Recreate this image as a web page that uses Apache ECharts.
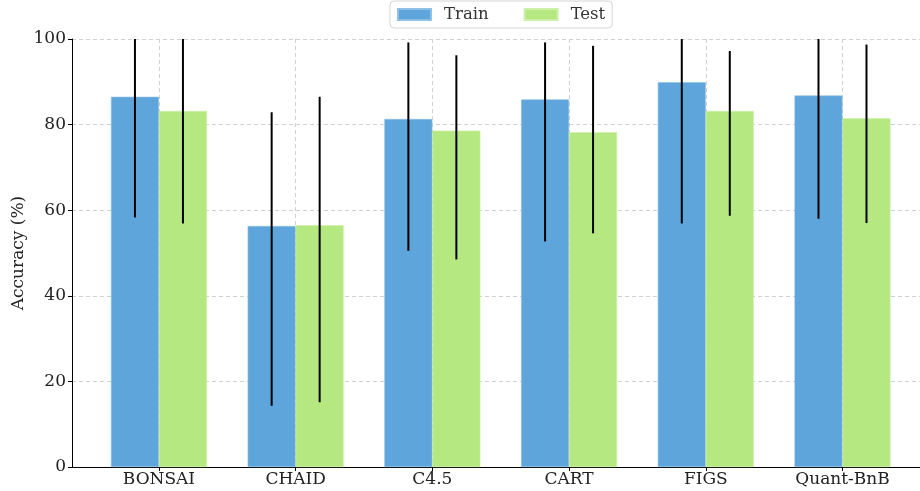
<!DOCTYPE html>
<html>
<head>
<meta charset="utf-8">
<script src="https://cdn.jsdelivr.net/npm/echarts@6/dist/echarts.min.js"></script>
<style>html,body{margin:0;padding:0;background:#fff;}#c{width:920px;height:491px;}</style>
</head>
<body>
<div id="c"></div>
<script>
const categories = ['BONSAI', 'CHAID', 'C4.5', 'CART', 'FIGS', 'Quant-BnB'];
const trainMean = [86.5, 56.3, 81.3, 85.9, 89.9, 86.8];
const testMean  = [83.2, 56.5, 78.6, 78.2, 83.2, 81.5];
const trainLow  = [58.3, 14.3, 50.5, 52.7, 56.9, 58.0];
const trainHigh = [100, 82.9, 99.2, 99.2, 100, 100];
const testLow   = [56.9, 15.1, 48.5, 54.6, 58.7, 57.0];
const testHigh  = [100, 86.5, 96.2, 98.4, 97.2, 98.7];
const yTicks = [0, 20, 40, 60, 80, 100];

const FONT = 'DejaVu Serif';
const BAR_W = 48;
const idx = categories.map((_, i) => i);

function errSeries(name, low, high, dx) {
  return {
    type: 'custom',
    name: name + ' err',
    z: 10,
    silent: true,
    data: idx.map(i => [i, low[i], high[i]]),
    renderItem: function (params, api) {
      const lo = api.coord([api.value(0), api.value(1)]);
      const hi = api.coord([api.value(0), api.value(2)]);
      const x = lo[0] + dx;
      return {
        type: 'line',
        shape: { x1: x, y1: lo[1], x2: x, y2: hi[1] },
        style: { stroke: '#000', lineWidth: 2 }
      };
    }
  };
}

const chart = echarts.init(document.getElementById('c'), null, { renderer: 'canvas' });
chart.setOption({
  animation: false,
  backgroundColor: '#fff',
  textStyle: { fontFamily: FONT },
  grid: { left: 72, right: 0, top: 39, bottom: 24, containLabel: false, outerBoundsMode: 'none' },
  legend: {
    top: 1,
    left: 390,
    data: ['Train', 'Test'],
    itemWidth: 33,
    itemHeight: 11,
    itemGap: 35,
    padding: [5, 7, 5, 7],
    borderColor: '#d4d4d4',
    borderWidth: 1,
    borderRadius: 4,
    icon: 'rect',
    textStyle: { fontFamily: FONT, fontSize: 16.5, color: '#333', padding: [0, 0, 0, 8] }
  },
  xAxis: {
    type: 'value',
    min: -0.636,
    max: 5.567,
    axisLine: { show: true, onZero: false, lineStyle: { color: '#000', width: 1 } },
    axisTick: { show: true, customValues: idx, length: 4, lineStyle: { color: '#000' } },
    axisLabel: {
      customValues: idx,
      formatter: v => categories[Math.round(v)] || '',
      fontFamily: FONT, fontSize: 17, color: '#222', margin: 4
    },
    splitLine: { show: true, lineStyle: { color: '#d0d0d0', type: [4, 3], width: 1 } }
  },
  yAxis: {
    type: 'value',
    min: 0,
    max: 100,
    interval: 20,
    name: 'Accuracy (%)',
    nameLocation: 'middle',
    nameGap: 45,
    nameMoveOverlap: false,
    nameTextStyle: { fontFamily: FONT, fontSize: 17, color: '#222' },
    axisLine: { show: true, onZero: false, lineStyle: { color: '#000', width: 1 } },
    axisTick: { show: true, length: 4, lineStyle: { color: '#000' } },
    axisLabel: {
      customValues: yTicks,
      fontFamily: FONT, fontSize: 17, color: '#222', margin: 6
    },
    splitLine: { show: true, lineStyle: { color: '#d0d0d0', type: [4, 3], width: 1 } }
  },
  series: [
    {
      name: 'Train', type: 'bar', barWidth: BAR_W, barGap: '0%',
      itemStyle: { color: '#5DA5DA', borderColor: '#8fc0e6', borderWidth: 0.6 },
      data: idx.map(i => [i, trainMean[i]])
    },
    {
      name: 'Test', type: 'bar', barWidth: BAR_W, barGap: '0%',
      itemStyle: { color: '#B5E880', borderColor: '#cdf0a8', borderWidth: 0.6 },
      data: idx.map(i => [i, testMean[i]])
    },
    errSeries('Train', trainLow, trainHigh, -BAR_W / 2),
    errSeries('Test', testLow, testHigh, BAR_W / 2)
  ]
});
</script>
</body>
</html>
